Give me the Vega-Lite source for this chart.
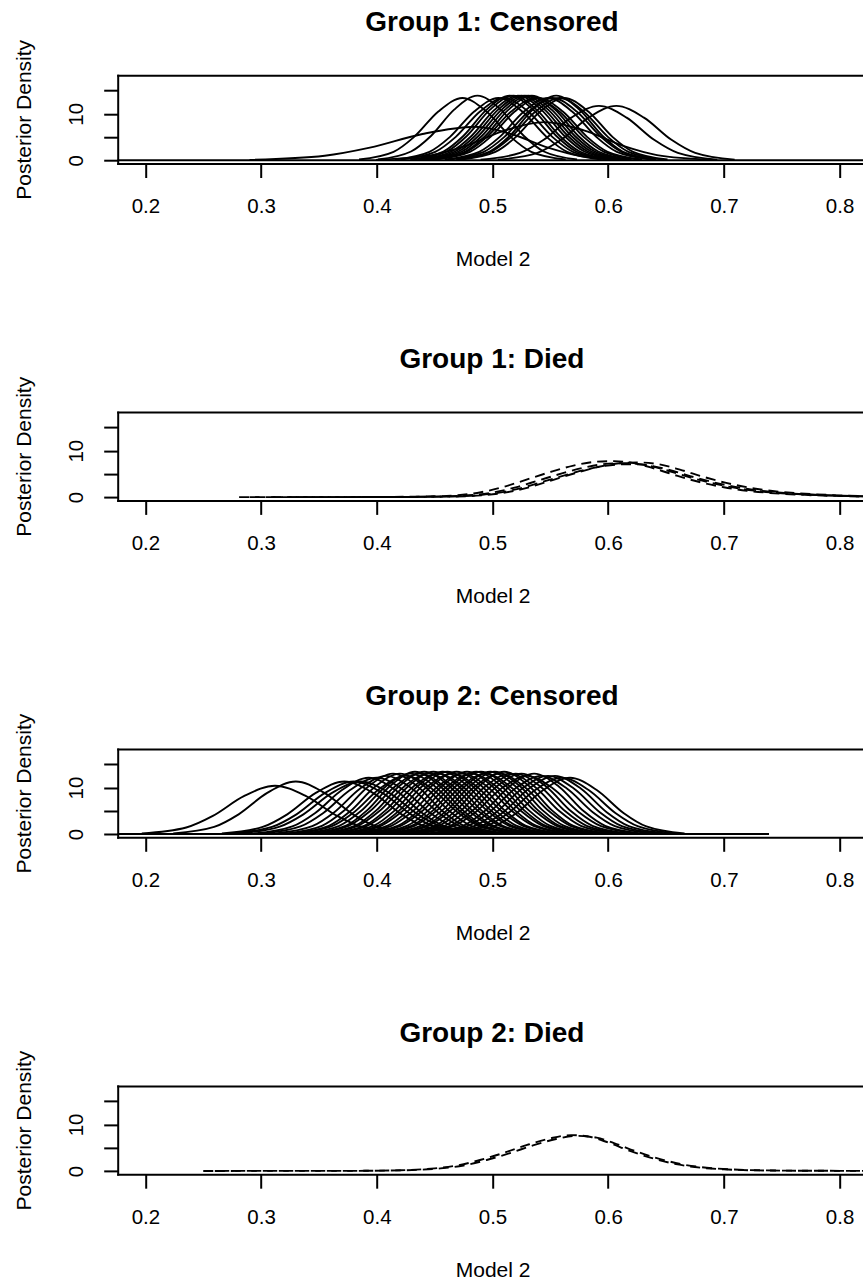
{
"$schema": "https://vega.github.io/schema/vega-lite/v6.json",
"padding": {"left": 13.7, "top": 9.2, "right": 0, "bottom": 0},
"background": "white",
"datasets": {
"g1c": [
{"c":0,"x":0.15,"y":0},{"c":0,"x":0.85,"y":0},
{"c":1,"x":0.3847,"y":0.15},{"c":1,"x":0.4145,"y":1.81},{"c":1,"x":0.4323,"y":5.03},{"c":1,"x":0.4532,"y":10.49},{"c":1,"x":0.474,"y":13.4},{"c":1,"x":0.4948,"y":10.49},{"c":1,"x":0.5157,"y":5.03},{"c":1,"x":0.5335,"y":1.81},{"c":1,"x":0.5633,"y":0.15},
{"c":2,"x":0.4009,"y":0.15},{"c":2,"x":0.4296,"y":1.88},{"c":2,"x":0.4468,"y":5.22},{"c":2,"x":0.4669,"y":10.88},{"c":2,"x":0.487,"y":13.9},{"c":2,"x":0.5071,"y":10.88},{"c":2,"x":0.5272,"y":5.22},{"c":2,"x":0.5444,"y":1.88},{"c":2,"x":0.5731,"y":0.15},
{"c":3,"x":0.4157,"y":0.15},{"c":3,"x":0.4455,"y":1.81},{"c":3,"x":0.4633,"y":5.03},{"c":3,"x":0.4842,"y":10.49},{"c":3,"x":0.505,"y":13.4},{"c":3,"x":0.5258,"y":10.49},{"c":3,"x":0.5467,"y":5.03},{"c":3,"x":0.5645,"y":1.81},{"c":3,"x":0.5943,"y":0.15},
{"c":4,"x":0.4207,"y":0.15},{"c":4,"x":0.4505,"y":1.81},{"c":4,"x":0.4683,"y":5.03},{"c":4,"x":0.4892,"y":10.49},{"c":4,"x":0.51,"y":13.4},{"c":4,"x":0.5308,"y":10.49},{"c":4,"x":0.5517,"y":5.03},{"c":4,"x":0.5695,"y":1.81},{"c":4,"x":0.5993,"y":0.15},
{"c":5,"x":0.4289,"y":0.15},{"c":5,"x":0.4576,"y":1.88},{"c":5,"x":0.4748,"y":5.22},{"c":5,"x":0.4949,"y":10.88},{"c":5,"x":0.515,"y":13.9},{"c":5,"x":0.5351,"y":10.88},{"c":5,"x":0.5552,"y":5.22},{"c":5,"x":0.5724,"y":1.88},{"c":5,"x":0.6011,"y":0.15},
{"c":6,"x":0.4319,"y":0.15},{"c":6,"x":0.4606,"y":1.88},{"c":6,"x":0.4778,"y":5.22},{"c":6,"x":0.4979,"y":10.88},{"c":6,"x":0.518,"y":13.9},{"c":6,"x":0.5381,"y":10.88},{"c":6,"x":0.5582,"y":5.22},{"c":6,"x":0.5754,"y":1.88},{"c":6,"x":0.6041,"y":0.15},
{"c":7,"x":0.4359,"y":0.15},{"c":7,"x":0.4646,"y":1.88},{"c":7,"x":0.4818,"y":5.22},{"c":7,"x":0.5019,"y":10.88},{"c":7,"x":0.522,"y":13.9},{"c":7,"x":0.5421,"y":10.88},{"c":7,"x":0.5622,"y":5.22},{"c":7,"x":0.5794,"y":1.88},{"c":7,"x":0.6081,"y":0.15},
{"c":8,"x":0.4389,"y":0.15},{"c":8,"x":0.4676,"y":1.88},{"c":8,"x":0.4848,"y":5.22},{"c":8,"x":0.5049,"y":10.88},{"c":8,"x":0.525,"y":13.9},{"c":8,"x":0.5451,"y":10.88},{"c":8,"x":0.5652,"y":5.22},{"c":8,"x":0.5824,"y":1.88},{"c":8,"x":0.6111,"y":0.15},
{"c":9,"x":0.4419,"y":0.15},{"c":9,"x":0.4706,"y":1.88},{"c":9,"x":0.4878,"y":5.22},{"c":9,"x":0.5079,"y":10.88},{"c":9,"x":0.528,"y":13.9},{"c":9,"x":0.5481,"y":10.88},{"c":9,"x":0.5682,"y":5.22},{"c":9,"x":0.5854,"y":1.88},{"c":9,"x":0.6141,"y":0.15},
{"c":10,"x":0.4449,"y":0.15},{"c":10,"x":0.4736,"y":1.88},{"c":10,"x":0.4908,"y":5.22},{"c":10,"x":0.5109,"y":10.88},{"c":10,"x":0.531,"y":13.9},{"c":10,"x":0.5511,"y":10.88},{"c":10,"x":0.5712,"y":5.22},{"c":10,"x":0.5884,"y":1.88},{"c":10,"x":0.6171,"y":0.15},
{"c":11,"x":0.4479,"y":0.15},{"c":11,"x":0.4766,"y":1.88},{"c":11,"x":0.4938,"y":5.22},{"c":11,"x":0.5139,"y":10.88},{"c":11,"x":0.534,"y":13.9},{"c":11,"x":0.5541,"y":10.88},{"c":11,"x":0.5742,"y":5.22},{"c":11,"x":0.5914,"y":1.88},{"c":11,"x":0.6201,"y":0.15},
{"c":12,"x":0.4477,"y":0.15},{"c":12,"x":0.4775,"y":1.81},{"c":12,"x":0.4953,"y":5.03},{"c":12,"x":0.5162,"y":10.49},{"c":12,"x":0.537,"y":13.4},{"c":12,"x":0.5578,"y":10.49},{"c":12,"x":0.5787,"y":5.03},{"c":12,"x":0.5965,"y":1.81},{"c":12,"x":0.6263,"y":0.15},
{"c":13,"x":0.4507,"y":0.15},{"c":13,"x":0.4805,"y":1.81},{"c":13,"x":0.4983,"y":5.03},{"c":13,"x":0.5192,"y":10.49},{"c":13,"x":0.54,"y":13.4},{"c":13,"x":0.5608,"y":10.49},{"c":13,"x":0.5817,"y":5.03},{"c":13,"x":0.5995,"y":1.81},{"c":13,"x":0.6293,"y":0.15},
{"c":14,"x":0.4587,"y":0.15},{"c":14,"x":0.4885,"y":1.81},{"c":14,"x":0.5063,"y":5.03},{"c":14,"x":0.5272,"y":10.49},{"c":14,"x":0.548,"y":13.4},{"c":14,"x":0.5688,"y":10.49},{"c":14,"x":0.5897,"y":5.03},{"c":14,"x":0.6075,"y":1.81},{"c":14,"x":0.6373,"y":0.15},
{"c":15,"x":0.4627,"y":0.15},{"c":15,"x":0.4925,"y":1.81},{"c":15,"x":0.5103,"y":5.03},{"c":15,"x":0.5312,"y":10.49},{"c":15,"x":0.552,"y":13.4},{"c":15,"x":0.5728,"y":10.49},{"c":15,"x":0.5937,"y":5.03},{"c":15,"x":0.6115,"y":1.81},{"c":15,"x":0.6413,"y":0.15},
{"c":16,"x":0.4689,"y":0.15},{"c":16,"x":0.4976,"y":1.88},{"c":16,"x":0.5148,"y":5.22},{"c":16,"x":0.5349,"y":10.88},{"c":16,"x":0.555,"y":13.9},{"c":16,"x":0.5751,"y":10.88},{"c":16,"x":0.5952,"y":5.22},{"c":16,"x":0.6124,"y":1.88},{"c":16,"x":0.6411,"y":0.15},
{"c":17,"x":0.4687,"y":0.15},{"c":17,"x":0.4985,"y":1.81},{"c":17,"x":0.5163,"y":5.03},{"c":17,"x":0.5372,"y":10.49},{"c":17,"x":0.558,"y":13.4},{"c":17,"x":0.5788,"y":10.49},{"c":17,"x":0.5997,"y":5.03},{"c":17,"x":0.6175,"y":1.81},{"c":17,"x":0.6473,"y":0.15},
{"c":18,"x":0.4727,"y":0.15},{"c":18,"x":0.5025,"y":1.81},{"c":18,"x":0.5203,"y":5.03},{"c":18,"x":0.5412,"y":10.49},{"c":18,"x":0.562,"y":13.4},{"c":18,"x":0.5828,"y":10.49},{"c":18,"x":0.6037,"y":5.03},{"c":18,"x":0.6215,"y":1.81},{"c":18,"x":0.6513,"y":0.15},
{"c":19,"x":0.4897,"y":0.13},{"c":19,"x":0.5238,"y":1.58},{"c":19,"x":0.5443,"y":4.39},{"c":19,"x":0.5681,"y":9.16},{"c":19,"x":0.592,"y":11.7},{"c":19,"x":0.6159,"y":9.16},{"c":19,"x":0.6397,"y":4.39},{"c":19,"x":0.6602,"y":1.58},{"c":19,"x":0.6943,"y":0.13},
{"c":20,"x":0.5047,"y":0.13},{"c":20,"x":0.5388,"y":1.58},{"c":20,"x":0.5593,"y":4.39},{"c":20,"x":0.5831,"y":9.16},{"c":20,"x":0.607,"y":11.7},{"c":20,"x":0.6309,"y":9.16},{"c":20,"x":0.6547,"y":4.39},{"c":20,"x":0.6752,"y":1.58},{"c":20,"x":0.7093,"y":0.13},
{"c":21,"x":0.29,"y":0.08},{"c":21,"x":0.355,"y":0.97},{"c":21,"x":0.394,"y":2.7},{"c":21,"x":0.4395,"y":5.64},{"c":21,"x":0.485,"y":7.2},{"c":21,"x":0.5165,"y":5.64},{"c":21,"x":0.548,"y":2.7},{"c":21,"x":0.575,"y":0.97},{"c":21,"x":0.62,"y":0.08},
{"c":22,"x":0.3992,"y":0.09},{"c":22,"x":0.4478,"y":1.11},{"c":22,"x":0.477,"y":3.08},{"c":22,"x":0.511,"y":6.42},{"c":22,"x":0.545,"y":8.2},{"c":22,"x":0.579,"y":6.42},{"c":22,"x":0.613,"y":3.08},{"c":22,"x":0.6422,"y":1.11},{"c":22,"x":0.6908,"y":0.09}
],
"g1d": [
{"c":1,"x":0.29,"y":0},{"c":1,"x":0.39,"y":0.02},{"c":1,"x":0.44,"y":0.13},{"c":1,"x":0.47,"y":0.42},{"c":1,"x":0.49,"y":1.06},{"c":1,"x":0.51,"y":2.23},{"c":1,"x":0.53,"y":3.82},{"c":1,"x":0.55,"y":5.41},{"c":1,"x":0.57,"y":6.78},{"c":1,"x":0.59,"y":7.63},{"c":1,"x":0.605,"y":7.74},{"c":1,"x":0.62,"y":7.42},{"c":1,"x":0.64,"y":6.15},{"c":1,"x":0.66,"y":4.56},{"c":1,"x":0.68,"y":3.18},{"c":1,"x":0.7,"y":2.12},{"c":1,"x":0.72,"y":1.38},{"c":1,"x":0.74,"y":0.9},{"c":1,"x":0.77,"y":0.48},{"c":1,"x":0.8,"y":0.23},{"c":1,"x":0.85,"y":0.08},
{"c":2,"x":0.281,"y":0},{"c":2,"x":0.4,"y":0.02},{"c":2,"x":0.45,"y":0.12},{"c":2,"x":0.48,"y":0.4},{"c":2,"x":0.5,"y":1.0},{"c":2,"x":0.52,"y":2.1},{"c":2,"x":0.54,"y":3.6},{"c":2,"x":0.56,"y":5.1},{"c":2,"x":0.58,"y":6.4},{"c":2,"x":0.6,"y":7.2},{"c":2,"x":0.615,"y":7.3},{"c":2,"x":0.63,"y":7.0},{"c":2,"x":0.65,"y":5.8},{"c":2,"x":0.67,"y":4.3},{"c":2,"x":0.69,"y":3.0},{"c":2,"x":0.71,"y":2.0},{"c":2,"x":0.73,"y":1.3},{"c":2,"x":0.75,"y":0.85},{"c":2,"x":0.78,"y":0.45},{"c":2,"x":0.81,"y":0.22},{"c":2,"x":0.86,"y":0.08},
{"c":3,"x":0.31,"y":0},{"c":3,"x":0.406,"y":0.02},{"c":3,"x":0.456,"y":0.12},{"c":3,"x":0.486,"y":0.39},{"c":3,"x":0.506,"y":0.97},{"c":3,"x":0.526,"y":2.04},{"c":3,"x":0.546,"y":3.49},{"c":3,"x":0.566,"y":4.95},{"c":3,"x":0.586,"y":6.21},{"c":3,"x":0.606,"y":6.98},{"c":3,"x":0.621,"y":7.08},{"c":3,"x":0.636,"y":6.79},{"c":3,"x":0.656,"y":5.63},{"c":3,"x":0.676,"y":4.17},{"c":3,"x":0.696,"y":2.91},{"c":3,"x":0.716,"y":1.94},{"c":3,"x":0.736,"y":1.26},{"c":3,"x":0.756,"y":0.82},{"c":3,"x":0.786,"y":0.44},{"c":3,"x":0.816,"y":0.21},{"c":3,"x":0.866,"y":0.08},
{"c":4,"x":0.33,"y":0},{"c":4,"x":0.412,"y":0.02},{"c":4,"x":0.462,"y":0.12},{"c":4,"x":0.492,"y":0.41},{"c":4,"x":0.512,"y":1.02},{"c":4,"x":0.532,"y":2.14},{"c":4,"x":0.552,"y":3.67},{"c":4,"x":0.572,"y":5.2},{"c":4,"x":0.592,"y":6.53},{"c":4,"x":0.612,"y":7.34},{"c":4,"x":0.627,"y":7.45},{"c":4,"x":0.642,"y":7.14},{"c":4,"x":0.662,"y":5.92},{"c":4,"x":0.682,"y":4.39},{"c":4,"x":0.702,"y":3.06},{"c":4,"x":0.722,"y":2.04},{"c":4,"x":0.742,"y":1.33},{"c":4,"x":0.762,"y":0.87},{"c":4,"x":0.792,"y":0.46},{"c":4,"x":0.822,"y":0.22},{"c":4,"x":0.872,"y":0.08}
],
"g2c": [
{"c":0,"x":0.15,"y":0},{"c":0,"x":0.739,"y":0},
{"c":1,"x":0.1969,"y":0.12},{"c":1,"x":0.2353,"y":1.41},{"c":1,"x":0.2583,"y":3.9},{"c":1,"x":0.2851,"y":8.14},{"c":1,"x":0.312,"y":10.4},{"c":1,"x":0.3389,"y":8.14},{"c":1,"x":0.3657,"y":3.9},{"c":1,"x":0.3887,"y":1.41},{"c":1,"x":0.4271,"y":0.12},
{"c":2,"x":0.2241,"y":0.13},{"c":2,"x":0.2594,"y":1.53},{"c":2,"x":0.2806,"y":4.24},{"c":2,"x":0.3053,"y":8.84},{"c":2,"x":0.33,"y":11.3},{"c":2,"x":0.3547,"y":8.84},{"c":2,"x":0.3794,"y":4.24},{"c":2,"x":0.4006,"y":1.53},{"c":2,"x":0.4359,"y":0.13},
{"c":3,"x":0.2661,"y":0.13},{"c":3,"x":0.3014,"y":1.53},{"c":3,"x":0.3226,"y":4.24},{"c":3,"x":0.3473,"y":8.84},{"c":3,"x":0.372,"y":11.3},{"c":3,"x":0.3967,"y":8.84},{"c":3,"x":0.4214,"y":4.24},{"c":3,"x":0.4426,"y":1.53},{"c":3,"x":0.4779,"y":0.13},
{"c":4,"x":0.2741,"y":0.13},{"c":4,"x":0.3094,"y":1.53},{"c":4,"x":0.3306,"y":4.24},{"c":4,"x":0.3553,"y":8.84},{"c":4,"x":0.38,"y":11.3},{"c":4,"x":0.4047,"y":8.84},{"c":4,"x":0.4294,"y":4.24},{"c":4,"x":0.4506,"y":1.53},{"c":4,"x":0.4859,"y":0.13},
{"c":5,"x":0.2801,"y":0.13},{"c":5,"x":0.3154,"y":1.53},{"c":5,"x":0.3366,"y":4.24},{"c":5,"x":0.3613,"y":8.84},{"c":5,"x":0.386,"y":11.3},{"c":5,"x":0.4107,"y":8.84},{"c":5,"x":0.4354,"y":4.24},{"c":5,"x":0.4566,"y":1.53},{"c":5,"x":0.4919,"y":0.13},
{"c":6,"x":0.294,"y":0.13},{"c":6,"x":0.327,"y":1.64},{"c":6,"x":0.3468,"y":4.54},{"c":6,"x":0.3699,"y":9.47},{"c":6,"x":0.393,"y":12.1},{"c":6,"x":0.4161,"y":9.47},{"c":6,"x":0.4392,"y":4.54},{"c":6,"x":0.459,"y":1.64},{"c":6,"x":0.492,"y":0.13},
{"c":7,"x":0.301,"y":0.13},{"c":7,"x":0.334,"y":1.64},{"c":7,"x":0.3538,"y":4.54},{"c":7,"x":0.3769,"y":9.47},{"c":7,"x":0.4,"y":12.1},{"c":7,"x":0.4231,"y":9.47},{"c":7,"x":0.4462,"y":4.54},{"c":7,"x":0.466,"y":1.64},{"c":7,"x":0.499,"y":0.13},
{"c":8,"x":0.3123,"y":0.14},{"c":8,"x":0.3442,"y":1.69},{"c":8,"x":0.3633,"y":4.69},{"c":8,"x":0.3857,"y":9.78},{"c":8,"x":0.408,"y":12.5},{"c":8,"x":0.4303,"y":9.78},{"c":8,"x":0.4527,"y":4.69},{"c":8,"x":0.4718,"y":1.69},{"c":8,"x":0.5037,"y":0.14},
{"c":9,"x":0.322,"y":0.14},{"c":9,"x":0.3526,"y":1.76},{"c":9,"x":0.371,"y":4.88},{"c":9,"x":0.3925,"y":10.18},{"c":9,"x":0.414,"y":13.0},{"c":9,"x":0.4355,"y":10.18},{"c":9,"x":0.457,"y":4.88},{"c":9,"x":0.4754,"y":1.76},{"c":9,"x":0.506,"y":0.14},
{"c":10,"x":0.328,"y":0.14},{"c":10,"x":0.3586,"y":1.76},{"c":10,"x":0.377,"y":4.88},{"c":10,"x":0.3985,"y":10.18},{"c":10,"x":0.42,"y":13.0},{"c":10,"x":0.4415,"y":10.18},{"c":10,"x":0.463,"y":4.88},{"c":10,"x":0.4814,"y":1.76},{"c":10,"x":0.512,"y":0.14},
{"c":11,"x":0.3293,"y":0.14},{"c":11,"x":0.3612,"y":1.69},{"c":11,"x":0.3803,"y":4.69},{"c":11,"x":0.4027,"y":9.78},{"c":11,"x":0.425,"y":12.5},{"c":11,"x":0.4473,"y":9.78},{"c":11,"x":0.4697,"y":4.69},{"c":11,"x":0.4888,"y":1.69},{"c":11,"x":0.5207,"y":0.14},
{"c":12,"x":0.337,"y":0.14},{"c":12,"x":0.3676,"y":1.76},{"c":12,"x":0.386,"y":4.88},{"c":12,"x":0.4075,"y":10.18},{"c":12,"x":0.429,"y":13.0},{"c":12,"x":0.4505,"y":10.18},{"c":12,"x":0.472,"y":4.88},{"c":12,"x":0.4904,"y":1.76},{"c":12,"x":0.521,"y":0.14},
{"c":13,"x":0.3437,"y":0.15},{"c":13,"x":0.3735,"y":1.81},{"c":13,"x":0.3913,"y":5.03},{"c":13,"x":0.4122,"y":10.49},{"c":13,"x":0.433,"y":13.4},{"c":13,"x":0.4538,"y":10.49},{"c":13,"x":0.4747,"y":5.03},{"c":13,"x":0.4925,"y":1.81},{"c":13,"x":0.5223,"y":0.15},
{"c":14,"x":0.345,"y":0.14},{"c":14,"x":0.3756,"y":1.76},{"c":14,"x":0.394,"y":4.88},{"c":14,"x":0.4155,"y":10.18},{"c":14,"x":0.437,"y":13.0},{"c":14,"x":0.4585,"y":10.18},{"c":14,"x":0.48,"y":4.88},{"c":14,"x":0.4984,"y":1.76},{"c":14,"x":0.529,"y":0.14},
{"c":15,"x":0.3517,"y":0.15},{"c":15,"x":0.3815,"y":1.81},{"c":15,"x":0.3993,"y":5.03},{"c":15,"x":0.4202,"y":10.49},{"c":15,"x":0.441,"y":13.4},{"c":15,"x":0.4618,"y":10.49},{"c":15,"x":0.4827,"y":5.03},{"c":15,"x":0.5005,"y":1.81},{"c":15,"x":0.5303,"y":0.15},
{"c":16,"x":0.353,"y":0.14},{"c":16,"x":0.3836,"y":1.76},{"c":16,"x":0.402,"y":4.88},{"c":16,"x":0.4235,"y":10.18},{"c":16,"x":0.445,"y":13.0},{"c":16,"x":0.4665,"y":10.18},{"c":16,"x":0.488,"y":4.88},{"c":16,"x":0.5064,"y":1.76},{"c":16,"x":0.537,"y":0.14},
{"c":17,"x":0.3597,"y":0.15},{"c":17,"x":0.3895,"y":1.81},{"c":17,"x":0.4073,"y":5.03},{"c":17,"x":0.4282,"y":10.49},{"c":17,"x":0.449,"y":13.4},{"c":17,"x":0.4698,"y":10.49},{"c":17,"x":0.4907,"y":5.03},{"c":17,"x":0.5085,"y":1.81},{"c":17,"x":0.5383,"y":0.15},
{"c":18,"x":0.361,"y":0.14},{"c":18,"x":0.3916,"y":1.76},{"c":18,"x":0.41,"y":4.88},{"c":18,"x":0.4315,"y":10.18},{"c":18,"x":0.453,"y":13.0},{"c":18,"x":0.4745,"y":10.18},{"c":18,"x":0.496,"y":4.88},{"c":18,"x":0.5144,"y":1.76},{"c":18,"x":0.545,"y":0.14},
{"c":19,"x":0.3677,"y":0.15},{"c":19,"x":0.3975,"y":1.81},{"c":19,"x":0.4153,"y":5.03},{"c":19,"x":0.4362,"y":10.49},{"c":19,"x":0.457,"y":13.4},{"c":19,"x":0.4778,"y":10.49},{"c":19,"x":0.4987,"y":5.03},{"c":19,"x":0.5165,"y":1.81},{"c":19,"x":0.5463,"y":0.15},
{"c":20,"x":0.3717,"y":0.15},{"c":20,"x":0.4015,"y":1.81},{"c":20,"x":0.4193,"y":5.03},{"c":20,"x":0.4402,"y":10.49},{"c":20,"x":0.461,"y":13.4},{"c":20,"x":0.4818,"y":10.49},{"c":20,"x":0.5027,"y":5.03},{"c":20,"x":0.5205,"y":1.81},{"c":20,"x":0.5503,"y":0.15},
{"c":21,"x":0.373,"y":0.14},{"c":21,"x":0.4036,"y":1.76},{"c":21,"x":0.422,"y":4.88},{"c":21,"x":0.4435,"y":10.18},{"c":21,"x":0.465,"y":13.0},{"c":21,"x":0.4865,"y":10.18},{"c":21,"x":0.508,"y":4.88},{"c":21,"x":0.5264,"y":1.76},{"c":21,"x":0.557,"y":0.14},
{"c":22,"x":0.3797,"y":0.15},{"c":22,"x":0.4095,"y":1.81},{"c":22,"x":0.4273,"y":5.03},{"c":22,"x":0.4482,"y":10.49},{"c":22,"x":0.469,"y":13.4},{"c":22,"x":0.4898,"y":10.49},{"c":22,"x":0.5107,"y":5.03},{"c":22,"x":0.5285,"y":1.81},{"c":22,"x":0.5583,"y":0.15},
{"c":23,"x":0.382,"y":0.14},{"c":23,"x":0.4126,"y":1.76},{"c":23,"x":0.431,"y":4.88},{"c":23,"x":0.4525,"y":10.18},{"c":23,"x":0.474,"y":13.0},{"c":23,"x":0.4955,"y":10.18},{"c":23,"x":0.517,"y":4.88},{"c":23,"x":0.5354,"y":1.76},{"c":23,"x":0.566,"y":0.14},
{"c":24,"x":0.3887,"y":0.15},{"c":24,"x":0.4185,"y":1.81},{"c":24,"x":0.4363,"y":5.03},{"c":24,"x":0.4572,"y":10.49},{"c":24,"x":0.478,"y":13.4},{"c":24,"x":0.4988,"y":10.49},{"c":24,"x":0.5197,"y":5.03},{"c":24,"x":0.5375,"y":1.81},{"c":24,"x":0.5673,"y":0.15},
{"c":25,"x":0.39,"y":0.14},{"c":25,"x":0.4206,"y":1.76},{"c":25,"x":0.439,"y":4.88},{"c":25,"x":0.4605,"y":10.18},{"c":25,"x":0.482,"y":13.0},{"c":25,"x":0.5035,"y":10.18},{"c":25,"x":0.525,"y":4.88},{"c":25,"x":0.5434,"y":1.76},{"c":25,"x":0.574,"y":0.14},
{"c":26,"x":0.3967,"y":0.15},{"c":26,"x":0.4265,"y":1.81},{"c":26,"x":0.4443,"y":5.03},{"c":26,"x":0.4652,"y":10.49},{"c":26,"x":0.486,"y":13.4},{"c":26,"x":0.5068,"y":10.49},{"c":26,"x":0.5277,"y":5.03},{"c":26,"x":0.5455,"y":1.81},{"c":26,"x":0.5753,"y":0.15},
{"c":27,"x":0.4007,"y":0.15},{"c":27,"x":0.4305,"y":1.81},{"c":27,"x":0.4483,"y":5.03},{"c":27,"x":0.4692,"y":10.49},{"c":27,"x":0.49,"y":13.4},{"c":27,"x":0.5108,"y":10.49},{"c":27,"x":0.5317,"y":5.03},{"c":27,"x":0.5495,"y":1.81},{"c":27,"x":0.5793,"y":0.15},
{"c":28,"x":0.402,"y":0.14},{"c":28,"x":0.4326,"y":1.76},{"c":28,"x":0.451,"y":4.88},{"c":28,"x":0.4725,"y":10.18},{"c":28,"x":0.494,"y":13.0},{"c":28,"x":0.5155,"y":10.18},{"c":28,"x":0.537,"y":4.88},{"c":28,"x":0.5554,"y":1.76},{"c":28,"x":0.586,"y":0.14},
{"c":29,"x":0.4087,"y":0.15},{"c":29,"x":0.4385,"y":1.81},{"c":29,"x":0.4563,"y":5.03},{"c":29,"x":0.4772,"y":10.49},{"c":29,"x":0.498,"y":13.4},{"c":29,"x":0.5188,"y":10.49},{"c":29,"x":0.5397,"y":5.03},{"c":29,"x":0.5575,"y":1.81},{"c":29,"x":0.5873,"y":0.15},
{"c":30,"x":0.4127,"y":0.15},{"c":30,"x":0.4425,"y":1.81},{"c":30,"x":0.4603,"y":5.03},{"c":30,"x":0.4812,"y":10.49},{"c":30,"x":0.502,"y":13.4},{"c":30,"x":0.5228,"y":10.49},{"c":30,"x":0.5437,"y":5.03},{"c":30,"x":0.5615,"y":1.81},{"c":30,"x":0.5913,"y":0.15},
{"c":31,"x":0.414,"y":0.14},{"c":31,"x":0.4446,"y":1.76},{"c":31,"x":0.463,"y":4.88},{"c":31,"x":0.4845,"y":10.18},{"c":31,"x":0.506,"y":13.0},{"c":31,"x":0.5275,"y":10.18},{"c":31,"x":0.549,"y":4.88},{"c":31,"x":0.5674,"y":1.76},{"c":31,"x":0.598,"y":0.14},
{"c":32,"x":0.4207,"y":0.15},{"c":32,"x":0.4505,"y":1.81},{"c":32,"x":0.4683,"y":5.03},{"c":32,"x":0.4892,"y":10.49},{"c":32,"x":0.51,"y":13.4},{"c":32,"x":0.5308,"y":10.49},{"c":32,"x":0.5517,"y":5.03},{"c":32,"x":0.5695,"y":1.81},{"c":32,"x":0.5993,"y":0.15},
{"c":33,"x":0.423,"y":0.14},{"c":33,"x":0.4536,"y":1.76},{"c":33,"x":0.472,"y":4.88},{"c":33,"x":0.4935,"y":10.18},{"c":33,"x":0.515,"y":13.0},{"c":33,"x":0.5365,"y":10.18},{"c":33,"x":0.558,"y":4.88},{"c":33,"x":0.5764,"y":1.76},{"c":33,"x":0.607,"y":0.14},
{"c":34,"x":0.428,"y":0.14},{"c":34,"x":0.4586,"y":1.76},{"c":34,"x":0.477,"y":4.88},{"c":34,"x":0.4985,"y":10.18},{"c":34,"x":0.52,"y":13.0},{"c":34,"x":0.5415,"y":10.18},{"c":34,"x":0.563,"y":4.88},{"c":34,"x":0.5814,"y":1.76},{"c":34,"x":0.612,"y":0.14},
{"c":35,"x":0.433,"y":0.14},{"c":35,"x":0.4636,"y":1.76},{"c":35,"x":0.482,"y":4.88},{"c":35,"x":0.5035,"y":10.18},{"c":35,"x":0.525,"y":13.0},{"c":35,"x":0.5465,"y":10.18},{"c":35,"x":0.568,"y":4.88},{"c":35,"x":0.5864,"y":1.76},{"c":35,"x":0.617,"y":0.14},
{"c":36,"x":0.4343,"y":0.14},{"c":36,"x":0.4662,"y":1.69},{"c":36,"x":0.4853,"y":4.69},{"c":36,"x":0.5077,"y":9.78},{"c":36,"x":0.53,"y":12.5},{"c":36,"x":0.5523,"y":9.78},{"c":36,"x":0.5747,"y":4.69},{"c":36,"x":0.5938,"y":1.69},{"c":36,"x":0.6257,"y":0.14},
{"c":37,"x":0.444,"y":0.14},{"c":37,"x":0.4746,"y":1.76},{"c":37,"x":0.493,"y":4.88},{"c":37,"x":0.5145,"y":10.18},{"c":37,"x":0.536,"y":13.0},{"c":37,"x":0.5575,"y":10.18},{"c":37,"x":0.579,"y":4.88},{"c":37,"x":0.5974,"y":1.76},{"c":37,"x":0.628,"y":0.14},
{"c":38,"x":0.4463,"y":0.14},{"c":38,"x":0.4782,"y":1.69},{"c":38,"x":0.4973,"y":4.69},{"c":38,"x":0.5197,"y":9.78},{"c":38,"x":0.542,"y":12.5},{"c":38,"x":0.5643,"y":9.78},{"c":38,"x":0.5867,"y":4.69},{"c":38,"x":0.6058,"y":1.69},{"c":38,"x":0.6377,"y":0.14},
{"c":39,"x":0.4523,"y":0.14},{"c":39,"x":0.4842,"y":1.69},{"c":39,"x":0.5033,"y":4.69},{"c":39,"x":0.5257,"y":9.78},{"c":39,"x":0.548,"y":12.5},{"c":39,"x":0.5703,"y":9.78},{"c":39,"x":0.5927,"y":4.69},{"c":39,"x":0.6118,"y":1.69},{"c":39,"x":0.6437,"y":0.14},
{"c":40,"x":0.4583,"y":0.14},{"c":40,"x":0.4902,"y":1.69},{"c":40,"x":0.5093,"y":4.69},{"c":40,"x":0.5317,"y":9.78},{"c":40,"x":0.554,"y":12.5},{"c":40,"x":0.5763,"y":9.78},{"c":40,"x":0.5987,"y":4.69},{"c":40,"x":0.6178,"y":1.69},{"c":40,"x":0.6497,"y":0.14},
{"c":41,"x":0.461,"y":0.13},{"c":41,"x":0.494,"y":1.64},{"c":41,"x":0.5138,"y":4.54},{"c":41,"x":0.5369,"y":9.47},{"c":41,"x":0.56,"y":12.1},{"c":41,"x":0.5831,"y":9.47},{"c":41,"x":0.6062,"y":4.54},{"c":41,"x":0.626,"y":1.64},{"c":41,"x":0.659,"y":0.13},
{"c":42,"x":0.468,"y":0.13},{"c":42,"x":0.501,"y":1.64},{"c":42,"x":0.5208,"y":4.54},{"c":42,"x":0.5439,"y":9.47},{"c":42,"x":0.567,"y":12.1},{"c":42,"x":0.5901,"y":9.47},{"c":42,"x":0.6132,"y":4.54},{"c":42,"x":0.633,"y":1.64},{"c":42,"x":0.666,"y":0.13}
],
"g2d": [
{"c":1,"x":0.25,"y":0},{"c":1,"x":0.38,"y":0.02},{"c":1,"x":0.42,"y":0.15},{"c":1,"x":0.45,"y":0.55},{"c":1,"x":0.47,"y":1.2},{"c":1,"x":0.49,"y":2.4},{"c":1,"x":0.51,"y":3.9},{"c":1,"x":0.53,"y":5.6},{"c":1,"x":0.55,"y":7.0},{"c":1,"x":0.568,"y":7.7},{"c":1,"x":0.585,"y":7.3},{"c":1,"x":0.6,"y":6.1},{"c":1,"x":0.62,"y":4.2},{"c":1,"x":0.64,"y":2.6},{"c":1,"x":0.66,"y":1.4},{"c":1,"x":0.68,"y":0.7},{"c":1,"x":0.7,"y":0.35},{"c":1,"x":0.73,"y":0.12},{"c":1,"x":0.78,"y":0.03},{"c":1,"x":0.86,"y":0},
{"c":2,"x":0.26,"y":0},{"c":2,"x":0.385,"y":0.02},{"c":2,"x":0.425,"y":0.15},{"c":2,"x":0.455,"y":0.54},{"c":2,"x":0.475,"y":1.18},{"c":2,"x":0.495,"y":2.35},{"c":2,"x":0.515,"y":3.82},{"c":2,"x":0.535,"y":5.49},{"c":2,"x":0.555,"y":6.86},{"c":2,"x":0.573,"y":7.55},{"c":2,"x":0.59,"y":7.15},{"c":2,"x":0.605,"y":5.98},{"c":2,"x":0.625,"y":4.12},{"c":2,"x":0.645,"y":2.55},{"c":2,"x":0.665,"y":1.37},{"c":2,"x":0.685,"y":0.69},{"c":2,"x":0.705,"y":0.34},{"c":2,"x":0.735,"y":0.12},{"c":2,"x":0.785,"y":0.03},{"c":2,"x":0.865,"y":0}
]
},
"config": {
  "font": "Liberation Sans",
  "view": {"stroke": null},
  "axis": {"grid": false, "domainColor": "black", "domainWidth": 2, "domainCap": "square", "tickColor": "black", "tickWidth": 2, "tickSize": 14, "labelColor": "black", "labelFont": "Liberation Sans", "labelFontSize": 20.5, "labelFlush": false, "labelOverlap": false, "titleColor": "black", "titleFont": "Liberation Sans", "titleFontSize": 21, "titleFontWeight": "normal"},
  "axisBottom": {"labelBaseline": "alphabetic", "labelPadding": 35.3, "titleBaseline": "alphabetic", "titleAlign": "center", "titleX": 374.9, "titleY": 102},
  "axisTop": {"ticks": false, "labels": false},
  "axisLeft": {"labelAngle": 270, "labelAlign": "center", "labelBaseline": "alphabetic", "labelPadding": 21.3, "titleAngle": 270, "titleAlign": "center", "titleBaseline": "alphabetic", "titleX": -86.8, "titleY": 44.15},
  "title": {"font": "Liberation Sans", "fontSize": 28, "fontWeight": "bold", "color": "black", "anchor": "middle", "frame": "group", "baseline": "alphabetic", "offset": 2, "dx": 1.5}
},
"bounds": "flush",
"spacing": 247.9,
"vconcat": [
{
  "title": "Group 1: Censored",
  "width": 745.5, "height": 88.3,
  "data": {"name": "g1c"},
  "encoding": {"y": {"field": "y", "type": "quantitative", "scale": {"domain": [-0.7, 18.29], "nice": false, "zero": false}, "axis": {"values": [0, 5, 10, 15], "labelExpr": "datum.value == 0 || datum.value == 10 ? datum.label : ''", "title": "Posterior Density"}}, "detail": {"field": "c", "type": "nominal"}},
  "layer": [
    {"mark": {"type": "line", "interpolate": "monotone", "clip": true, "color": "black", "strokeWidth": 1.9},
     "encoding": {"x": {"field": "x", "type": "quantitative", "scale": {"domain": [0.17606, 0.8204], "nice": false, "zero": false}, "axis": {"orient": "bottom", "values": [0.2, 0.3, 0.4, 0.5, 0.6, 0.7, 0.8], "format": ".1f", "title": "Model 2"}}}},
    {"mark": {"type": "line", "strokeOpacity": 0, "clip": true},
     "encoding": {"x": {"field": "x", "type": "quantitative", "scale": {"domain": [0.17606, 0.8204], "nice": false, "zero": false}, "axis": {"orient": "top", "title": null}}}}
  ],
  "resolve": {"axis": {"x": "independent"}}
},
{
  "title": "Group 1: Died",
  "width": 745.5, "height": 88.3,
  "data": {"name": "g1d"},
  "encoding": {"y": {"field": "y", "type": "quantitative", "scale": {"domain": [-0.7, 18.29], "nice": false, "zero": false}, "axis": {"values": [0, 5, 10, 15], "labelExpr": "datum.value == 0 || datum.value == 10 ? datum.label : ''", "title": "Posterior Density"}}, "detail": {"field": "c", "type": "nominal"}},
  "layer": [
    {"mark": {"type": "line", "interpolate": "monotone", "clip": true, "color": "black", "strokeWidth": 1.9, "strokeDash": [10, 6]},
     "encoding": {"x": {"field": "x", "type": "quantitative", "scale": {"domain": [0.17606, 0.8204], "nice": false, "zero": false}, "axis": {"orient": "bottom", "values": [0.2, 0.3, 0.4, 0.5, 0.6, 0.7, 0.8], "format": ".1f", "title": "Model 2"}}}},
    {"mark": {"type": "line", "strokeOpacity": 0, "clip": true},
     "encoding": {"x": {"field": "x", "type": "quantitative", "scale": {"domain": [0.17606, 0.8204], "nice": false, "zero": false}, "axis": {"orient": "top", "title": null}}}}
  ],
  "resolve": {"axis": {"x": "independent"}}
},
{
  "title": "Group 2: Censored",
  "width": 745.5, "height": 88.3,
  "data": {"name": "g2c"},
  "encoding": {"y": {"field": "y", "type": "quantitative", "scale": {"domain": [-0.7, 18.29], "nice": false, "zero": false}, "axis": {"values": [0, 5, 10, 15], "labelExpr": "datum.value == 0 || datum.value == 10 ? datum.label : ''", "title": "Posterior Density"}}, "detail": {"field": "c", "type": "nominal"}},
  "layer": [
    {"mark": {"type": "line", "interpolate": "monotone", "clip": true, "color": "black", "strokeWidth": 1.9},
     "encoding": {"x": {"field": "x", "type": "quantitative", "scale": {"domain": [0.17606, 0.8204], "nice": false, "zero": false}, "axis": {"orient": "bottom", "values": [0.2, 0.3, 0.4, 0.5, 0.6, 0.7, 0.8], "format": ".1f", "title": "Model 2"}}}},
    {"mark": {"type": "line", "strokeOpacity": 0, "clip": true},
     "encoding": {"x": {"field": "x", "type": "quantitative", "scale": {"domain": [0.17606, 0.8204], "nice": false, "zero": false}, "axis": {"orient": "top", "title": null}}}}
  ],
  "resolve": {"axis": {"x": "independent"}}
},
{
  "title": "Group 2: Died",
  "width": 745.5, "height": 88.3,
  "data": {"name": "g2d"},
  "encoding": {"y": {"field": "y", "type": "quantitative", "scale": {"domain": [-0.7, 18.29], "nice": false, "zero": false}, "axis": {"values": [0, 5, 10, 15], "labelExpr": "datum.value == 0 || datum.value == 10 ? datum.label : ''", "title": "Posterior Density"}}, "detail": {"field": "c", "type": "nominal"}},
  "layer": [
    {"mark": {"type": "line", "interpolate": "monotone", "clip": true, "color": "black", "strokeWidth": 1.9, "strokeDash": [10, 6]},
     "encoding": {"x": {"field": "x", "type": "quantitative", "scale": {"domain": [0.17606, 0.8204], "nice": false, "zero": false}, "axis": {"orient": "bottom", "values": [0.2, 0.3, 0.4, 0.5, 0.6, 0.7, 0.8], "format": ".1f", "title": "Model 2"}}}},
    {"mark": {"type": "line", "strokeOpacity": 0, "clip": true},
     "encoding": {"x": {"field": "x", "type": "quantitative", "scale": {"domain": [0.17606, 0.8204], "nice": false, "zero": false}, "axis": {"orient": "top", "title": null}}}}
  ],
  "resolve": {"axis": {"x": "independent"}}
}
]
}
